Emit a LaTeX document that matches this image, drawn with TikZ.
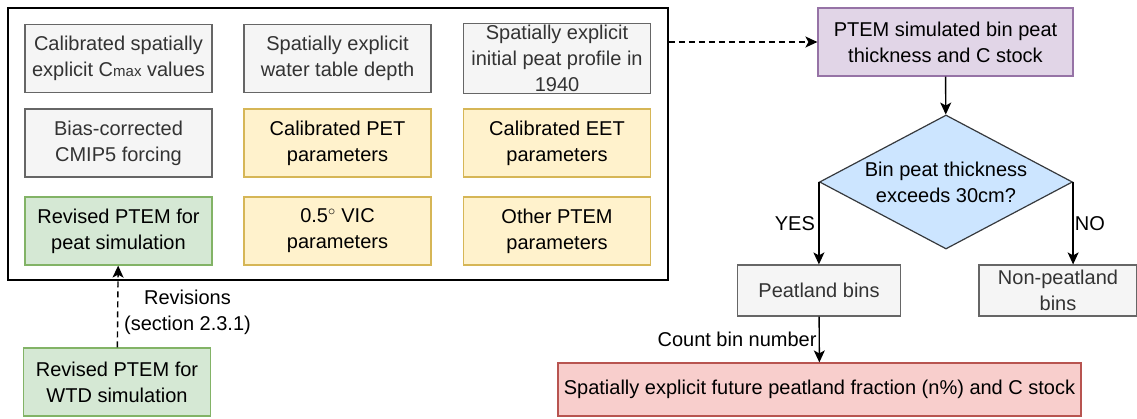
\documentclass[tikz,border=0pt]{standalone}
\usepackage{fontspec}
\setmainfont{Liberation Sans}
\usetikzlibrary{arrows.meta,shapes.geometric}
\definecolor{grayfill}{HTML}{F5F5F5}\definecolor{graydraw}{HTML}{666666}\definecolor{graytext}{HTML}{333333}
\definecolor{yelfill}{HTML}{FFF2CC}\definecolor{yeldraw}{HTML}{D6B656}
\definecolor{grnfill}{HTML}{D5E8D4}\definecolor{grndraw}{HTML}{82B366}
\definecolor{purfill}{HTML}{E1D5E7}\definecolor{purdraw}{HTML}{9673A6}
\definecolor{bluefill}{HTML}{CCE5FF}\definecolor{bluedraw}{HTML}{36393D}
\definecolor{redfill}{HTML}{F8CECC}\definecolor{reddraw}{HTML}{B85450}
\tikzset{
  box/.style={draw, line width=1.2pt, rectangle, align=center, inner sep=2pt,
    minimum width=#1, font=\fontsize{20}{26}\selectfont},
  box/.default=187pt,
  inbox/.style={box, minimum height=68pt},
  graybox/.style={fill=grayfill, draw=graydraw, text=graytext},
  yelbox/.style={fill=yelfill, draw=yeldraw},
  grnbox/.style={fill=grnfill, draw=grndraw},
  lbl/.style={font=\fontsize{20}{26}\selectfont, align=center},
  dashline/.style={dash pattern=on 6pt off 4pt}
}
\begin{document}
\begin{tikzpicture}[x=1pt, y=-1pt, >={Stealth[length=12pt,width=11pt,inset=3pt,sep=0pt]}, line width=1.4pt]
    \useasboundingbox (0,0) rectangle (1137,418);
    \node[draw, line width=1.6pt, minimum width=660pt, minimum height=272pt, inner sep=0pt](inputs) at (338,144){};
    % inputs
    \node[inbox, graybox](cmax) at (118.5,58.5){Calibrated spatially\\explicit C{\fontsize{15}{15}\selectfont max} values};
    \node[inbox, graybox](wtd) at (337.5,58.5){Spatially explicit\\water table depth};
    \node[inbox, graybox](init) at (557,58.5){Spatially explicit\\initial peat profile in\\1940};
    \node[inbox, graybox](cmip) at (118.5,143){Bias-corrected\\CMIP5 forcing};
    \node[inbox, yelbox](pet) at (337.5,143){Calibrated PET\\parameters};
    \node[inbox, yelbox](eet) at (557,143){Calibrated EET\\parameters};
    \node[inbox, grnbox](peatsim) at (118.5,231){Revised PTEM for\\peat simulation};
    \node[inbox, yelbox](vic) at (337.5,231){0.5$^{\circ}$ VIC\\parameters};
    \node[inbox, yelbox](other) at (557,231){Other PTEM\\parameters};
    \node[inbox, grnbox](wtdsim) at (117,382){Revised PTEM for\\WTD simulation};
    \draw[-{Stealth[length=12pt,width=11pt,inset=3pt]}, dashline](wtdsim)--(peatsim);
    \node[lbl](rev) at (187.5,312){Revisions\\(section 2.3.1)};
    % flow chart
    \node[box=255pt, minimum height=68pt, fill=purfill, draw=purdraw](ptem) at (945.5,42){PTEM simulated bin peat\\thickness and C stock};
    \draw[->, dashline](ptem.west -| inputs.east)--(ptem);
    \node[diamond, draw=bluedraw, fill=bluefill, line width=1.2pt, minimum width=253pt, minimum height=134pt, aspect=1.9, inner sep=0pt, lbl](dec) at (946,182){Bin peat thickness\\exceeds 30cm?};
    \draw[->](ptem)--(dec);
    \node[box=163pt, minimum height=51pt, graybox](peat) at (819,290.5){Peatland bins};
    \node[box=158pt, minimum height=51pt, graybox](nonpeat) at (1058,290.5){Non-peatland\\bins};
    \draw[->](dec.west)--(dec.west |- peat.north)node[midway, left, lbl]{YES};
    \draw[->](dec.east)--(dec.east |- nonpeat.north)node[midway, right, lbl, inner sep=1pt]{NO};
    \node[box=523pt, minimum height=53pt, fill=redfill, draw=reddraw](frac) at (819.5,389.5){Spatially explicit future peatland fraction (n\%) and C stock};
    \draw[->](peat)--(frac)node[midway, left, lbl, inner sep=2pt]{Count bin number};
\end{tikzpicture}
\end{document}
